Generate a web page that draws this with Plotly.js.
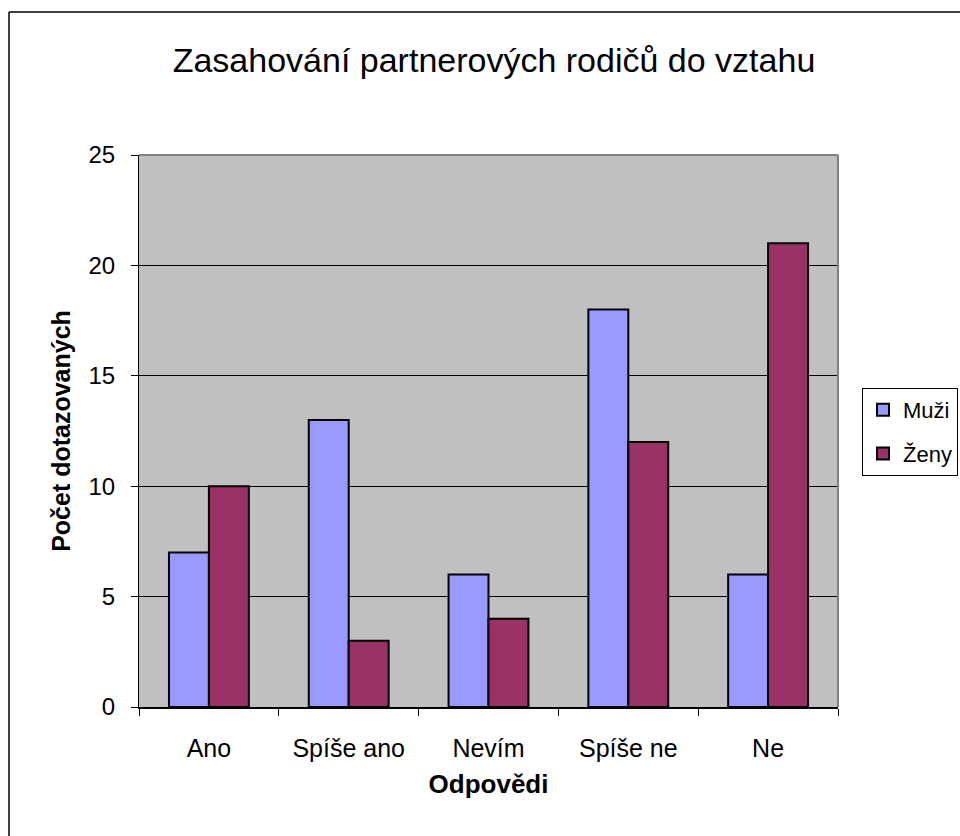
<!DOCTYPE html>
<html>
<head>
<meta charset="utf-8">
<script src="https://cdn.plot.ly/plotly-3.0.1.min.js"></script>
<style>
html,body{margin:0;padding:0;background:#fff;}
#chart{width:960px;height:836px;}
</style>
</head>
<body>
<div id="chart"></div>
<script>
const categories = ["Ano", "Spíše ano", "Nevím", "Spíše ne", "Ne"];
const muzi = [7, 13, 6, 18, 6];
const zeny = [10, 3, 4, 12, 21];
const seriesNames = ["Muži", "Ženy"];
const yTicks = [0, 5, 10, 15, 20, 25];

const FONT = "Liberation Sans, Arial, sans-serif";
const W = 960, H = 836;
const L = 139, R = 838, T = 155, B = 707;
const pw = R - L, ph = B - T;
const px = x => (x - L) / pw;
const py = y => (B - y) / ph;

const traces = [
  {type: "bar", name: seriesNames[0], x: categories, y: muzi, legendgroup: "a",
   marker: {color: "#9999FF", line: {color: "#000", width: 2}}},
  {type: "bar", name: seriesNames[1], x: categories, y: zeny, legendgroup: "b",
   marker: {color: "#993366", line: {color: "#000", width: 2}}}
];

const layout = {
  width: W, height: H,
  margin: {l: L, r: W - R, t: T, b: H - B, pad: 0, autoexpand: false},
  paper_bgcolor: "#fff",
  plot_bgcolor: "#C0C0C0",
  font: {family: FONT, color: "#000"},
  barmode: "group",
  bargap: 0.4286,
  bargroupgap: 0,
  showlegend: true,
  title: {text: "Zasahování partnerových rodičů do vztahu", font: {size: 34, family: FONT, color: "#000"},
          x: 494 / W, xanchor: "center", y: 1 - 60 / H, yanchor: "middle", xref: "container", yref: "container"},
  xaxis: {
    type: "category",
    showgrid: false, zeroline: false,
    showline: true, linecolor: "#000", linewidth: 1.5,
    ticks: "outside", ticklen: 7, tickcolor: "#000", tickwidth: 1, tickson: "boundaries",
    tickfont: {size: 25, family: FONT},
    ticklabelstandoff: 18,
    title: {text: "<b>Odpovědi</b>", font: {size: 26, family: FONT}, standoff: 14},
    fixedrange: true
  },
  yaxis: {
    range: [0, 25],
    tickvals: yTicks,
    ticktext: yTicks.map(String),
    showgrid: true, gridcolor: "#000", gridwidth: 1,
    zeroline: false,
    showline: true, linecolor: "#000", linewidth: 1,
    ticks: "outside", ticklen: 7, tickcolor: "#000", tickwidth: 1,
    tickfont: {size: 24, family: FONT},
    ticklabelstandoff: 11,
    title: {text: "<b>Počet dotazovaných</b>", font: {size: 25, family: FONT}, standoff: 10},
    fixedrange: true
  },
  legend: {
    xref: "container", yref: "container",
    x: 862 / W, y: 1 - 388 / H, xanchor: "left", yanchor: "top",
    bgcolor: "#fff", bordercolor: "#000", borderwidth: 1,
    font: {size: 22, family: FONT},
    traceorder: "grouped", tracegroupgap: 12,
    itemwidth: 30
  },
  shapes: [
    {type: "line", xref: "paper", yref: "paper", x0: 0, x1: 1, y0: 1, y1: 1, line: {color: "#808080", width: 2}, layer: "above"},
    {type: "line", xref: "paper", yref: "paper", x0: 1, x1: 1, y0: 0, y1: 1, line: {color: "#808080", width: 2}, layer: "above"},
    {type: "line", xref: "paper", yref: "paper", x0: px(9), x1: px(9), y0: py(12), y1: py(900), line: {color: "#000", width: 1.5}},
    {type: "line", xref: "paper", yref: "paper", x0: px(9), x1: px(1000), y0: py(12), y1: py(12), line: {color: "#000", width: 1.5}}
  ]
};

Plotly.newPlot("chart", traces, layout, {displayModeBar: false, staticPlot: true});
</script>
</body>
</html>
